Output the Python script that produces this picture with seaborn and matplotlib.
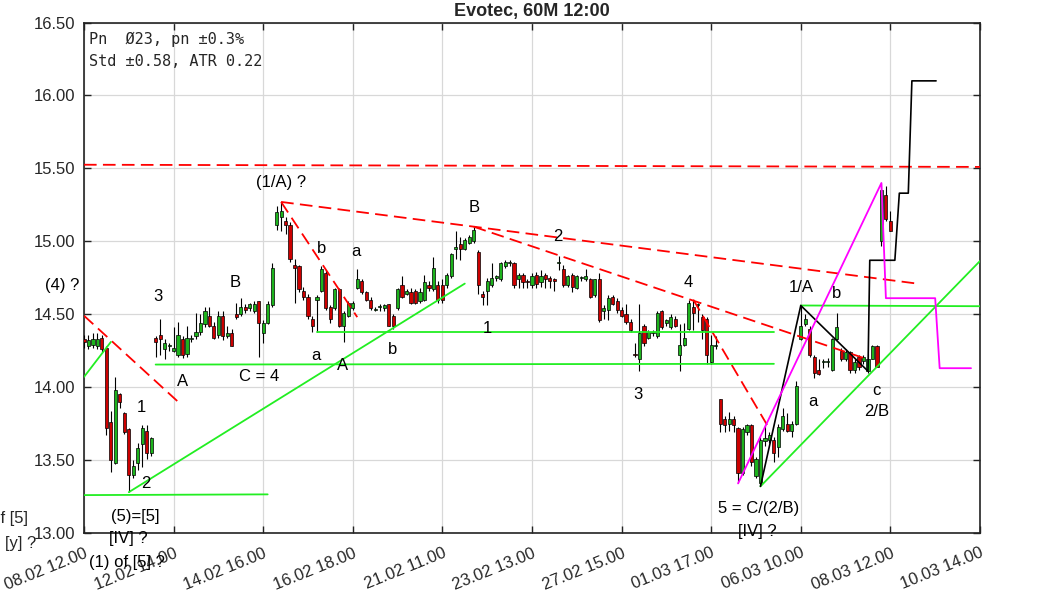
import matplotlib
matplotlib.use("Agg")
import matplotlib.pyplot as plt
import seaborn as sns  # styling + trend lines

sns.set_theme(style="whitegrid")
plt.rcParams['font.family'] = ['Liberation Sans', 'DejaVu Sans']

# hourly candles, one per bar (bar index = position on the x axis)
opens = [14.33, 14.28, 14.29, 14.28, 14.34, 14.27, 13.76, 13.48, 13.95, 13.82,
         13.71, 13.40, 13.48, 13.61, 13.70, 13.55, 14.34, 14.36, 14.26, 14.28,
         14.25, 14.22, 14.33, 14.23, 14.33, 14.35, 14.38, 14.43, 14.49, 14.42,
         14.36, 14.49, 14.35, 14.37, 14.50, 14.50, 14.55, 14.54, 14.52, 14.59,
         14.37, 14.44, 14.56, 15.11, 15.17, 15.14, 15.11, 14.84, 14.83, 14.66,
         14.62, 14.47, 14.60, 14.66, 14.78, 14.55, 14.54, 14.67, 14.42, 14.49,
         14.54, 14.68, 14.73, 14.65, 14.60, 14.53, 14.55, 14.54, 14.57, 14.49,
         14.54, 14.70, 14.64, 14.65, 14.66, 14.59, 14.60, 14.70, 14.67, 14.70,
         14.70, 14.70, 14.76, 14.95, 14.98, 14.95, 14.99, 15.00, 14.93, 14.64,
         14.66, 14.70, 14.75, 14.74, 14.83, 14.85, 14.85, 14.74, 14.77, 14.73,
         14.70, 14.77, 14.72, 14.77, 14.75, 14.74, 14.85, 14.81, 14.70, 14.77,
         14.68, 14.75, 14.74, 14.74, 14.63, 14.74, 14.52, 14.53, 14.62, 14.59,
         14.53, 14.50, 14.45, 14.23, 14.19, 14.42, 14.34, 14.37, 14.35, 14.52,
         14.44, 14.41, 14.47, 14.22, 14.29, 14.40, 14.55, 14.56, 14.48, 14.47,
         14.17, 14.28, 13.92, 13.78, 13.75, 13.78, 13.72, 13.41, 13.69, 13.74,
         13.39, 13.34, 13.63, 13.64, 13.64, 13.59, 13.71, 13.75, 13.70, 13.75,
         14.33, 14.43, 14.40, 14.21, 14.12, 14.17, 14.17, 14.12, 14.33, 14.25,
         14.19, 14.24, 14.12, 14.21, 14.18, 14.11, 14.19, 14.28, 15.00, 15.32,
         15.14]
highs = [14.36, 14.36, 14.37, 14.37, 14.36, 14.28, 13.84, 14.07, 13.96, 13.83,
         13.72, 13.50, 13.62, 13.74, 13.74, 13.66, 14.35, 14.47, 14.33, 14.30,
         14.41, 14.45, 14.35, 14.42, 14.36, 14.51, 14.50, 14.55, 14.55, 14.45,
         14.52, 14.52, 14.42, 14.40, 14.58, 14.61, 14.57, 14.58, 14.59, 14.59,
         14.46, 14.59, 14.85, 15.24, 15.27, 15.17, 15.13, 14.88, 14.84, 14.69,
         14.64, 14.49, 14.63, 14.83, 14.80, 14.56, 14.68, 14.68, 14.52, 14.59,
         14.59, 14.81, 14.74, 14.66, 14.62, 14.55, 14.57, 14.57, 14.57, 14.50,
         14.68, 14.76, 14.67, 14.68, 14.67, 14.68, 14.77, 14.73, 14.89, 14.73,
         14.74, 14.78, 14.92, 15.07, 15.03, 15.02, 15.04, 15.10, 14.94, 14.66,
         14.75, 14.85, 14.77, 14.86, 14.87, 14.87, 14.86, 14.78, 14.78, 14.74,
         14.78, 14.79, 14.80, 14.78, 14.76, 14.75, 14.90, 14.84, 14.77, 14.78,
         14.77, 14.76, 14.81, 14.75, 14.74, 14.78, 14.56, 14.63, 14.63, 14.61,
         14.55, 14.57, 14.47, 14.30, 14.57, 14.43, 14.39, 14.39, 14.52, 14.53,
         14.47, 14.50, 14.49, 14.43, 14.44, 14.60, 14.60, 14.58, 14.50, 14.48,
         14.36, 14.35, 13.92, 13.80, 13.83, 13.80, 13.73, 13.73, 13.75, 13.75,
         13.52, 13.66, 13.74, 13.69, 13.66, 13.75, 13.86, 13.82, 13.77, 14.04,
         14.56, 14.50, 14.42, 14.22, 14.19, 14.19, 14.20, 14.34, 14.51, 14.27,
         14.26, 14.25, 14.19, 14.22, 14.22, 14.23, 14.29, 14.29, 15.40, 15.38,
         15.21]
lows = [14.27, 14.26, 14.27, 14.26, 14.24, 13.67, 13.42, 13.47, 13.86, 13.68,
        13.28, 13.38, 13.43, 13.45, 13.51, 13.53, 14.21, 14.22, 14.19, 14.25,
        14.24, 14.21, 14.20, 14.21, 14.31, 14.33, 14.36, 14.41, 14.41, 14.33,
        14.34, 14.32, 14.34, 14.28, 14.47, 14.49, 14.51, 14.52, 14.51, 14.21,
        14.30, 14.43, 14.55, 15.08, 15.07, 15.05, 14.86, 14.58, 14.65, 14.60,
        14.47, 14.38, 14.38, 14.65, 14.53, 14.44, 14.53, 14.41, 14.31, 14.48,
        14.53, 14.67, 14.64, 14.59, 14.53, 14.52, 14.52, 14.52, 14.42, 14.40,
        14.53, 14.61, 14.63, 14.57, 14.57, 14.58, 14.59, 14.66, 14.66, 14.58,
        14.58, 14.68, 14.75, 14.88, 14.87, 14.94, 14.98, 14.99, 14.64, 14.56,
        14.56, 14.69, 14.73, 14.73, 14.82, 14.83, 14.68, 14.68, 14.68, 14.68,
        14.68, 14.68, 14.69, 14.68, 14.68, 14.66, 14.80, 14.69, 14.69, 14.65,
        14.67, 14.73, 14.73, 14.61, 14.62, 14.45, 14.47, 14.46, 14.56, 14.51,
        14.48, 14.43, 14.38, 14.21, 14.11, 14.28, 14.33, 14.35, 14.34, 14.40,
        14.42, 14.40, 14.41, 14.11, 14.28, 14.39, 14.39, 14.45, 14.33, 14.16,
        14.16, 14.26, 13.69, 13.69, 13.70, 13.69, 13.34, 13.40, 13.67, 13.46,
        13.38, 13.32, 13.60, 13.62, 13.49, 13.52, 13.70, 13.69, 13.66, 13.74,
        14.32, 14.42, 14.21, 14.06, 14.08, 14.13, 14.14, 14.11, 14.32, 14.18,
        14.18, 14.10, 14.10, 14.12, 14.16, 14.10, 14.19, 14.14, 14.97, 15.14,
        15.07]
closes = [14.31, 14.32, 14.33, 14.33, 14.26, 13.72, 13.50, 13.98, 13.90, 13.69,
          13.40, 13.46, 13.58, 13.72, 13.55, 13.65, 14.31, 14.33, 14.30, 14.29,
          14.27, 14.36, 14.22, 14.34, 14.34, 14.38, 14.44, 14.52, 14.42, 14.34,
          14.49, 14.35, 14.37, 14.28, 14.48, 14.55, 14.53, 14.57, 14.57, 14.44,
          14.44, 14.57, 14.82, 15.20, 15.21, 15.11, 14.88, 14.82, 14.67, 14.62,
          14.49, 14.42, 14.62, 14.81, 14.54, 14.47, 14.67, 14.42, 14.51, 14.58,
          14.58, 14.74, 14.65, 14.60, 14.54, 14.53, 14.55, 14.56, 14.42, 14.42,
          14.67, 14.62, 14.66, 14.58, 14.58, 14.65, 14.72, 14.68, 14.82, 14.60,
          14.60, 14.77, 14.91, 14.96, 14.95, 15.01, 15.03, 15.08, 14.70, 14.62,
          14.73, 14.75, 14.76, 14.85, 14.86, 14.85, 14.70, 14.77, 14.72, 14.72,
          14.76, 14.71, 14.76, 14.74, 14.73, 14.73, 14.86, 14.70, 14.76, 14.69,
          14.76, 14.75, 14.76, 14.62, 14.74, 14.46, 14.54, 14.61, 14.57, 14.53,
          14.49, 14.45, 14.39, 14.22, 14.37, 14.30, 14.38, 14.37, 14.51, 14.41,
          14.46, 14.48, 14.42, 14.29, 14.34, 14.58, 14.51, 14.57, 14.39, 14.22,
          14.29, 14.28, 13.75, 13.74, 13.78, 13.74, 13.41, 13.71, 13.74, 13.49,
          13.51, 13.64, 13.65, 13.67, 13.55, 13.73, 13.80, 13.70, 13.75, 14.01,
          14.42, 14.47, 14.22, 14.10, 14.09, 14.17, 14.17, 14.33, 14.41, 14.19,
          14.24, 14.12, 14.17, 14.14, 14.21, 14.19, 14.28, 14.14, 15.35, 15.15,
          15.07]

tick_pos = [0, 20, 40, 60, 80, 100, 120, 140, 160, 180, 200]
tick_labels = ["08.02 12.00", "12.02 14.00", "14.02 16.00", "16.02 18.00",
               "21.02 11.00", "23.02 13.00", "27.02 15.00", "01.03 17.00",
               "06.03 10.00", "08.03 12.00", "10.03 14.00"]

# wave / channel lines (bar, price)
red_flat_x, red_flat_y = [0, 200], [15.525, 15.51]
red_top_x, red_top_y = [44, 186], [15.27, 14.71]
red_b_x, red_b_y = [44, 61], [15.27, 14.48]
red_B_x, red_B_y = [87, 175], [15.10, 14.19]
red_4_x, red_4_y = [136, 152.5], [14.60, 13.74]
red_left_x, red_left_y = [0, 21], [14.49, 13.90]

green_low_x, green_low_y = [0, 41], [13.26, 13.265]
green_up1_x, green_up1_y = [10, 85], [13.28, 14.71]
green_left_x, green_left_y = [0, 6], [14.07, 14.31]
green_c4_x, green_c4_y = [16, 154], [14.155, 14.16]
green_1_x, green_1_y = [52, 154], [14.38, 14.38]
green_up2_x, green_up2_y = [151, 200], [13.32, 14.865]
green_1A_x, green_1A_y = [160, 200], [14.56, 14.555]

black_x = [151, 160, 175, 175.4, 181, 182, 184, 184.8, 190.2]
black_y = [13.32, 14.56, 14.11, 14.87, 14.87, 15.33, 15.33, 16.10, 16.10]
magenta_x = [146, 178, 179, 190, 191, 198]
magenta_y = [13.34, 15.40, 14.61, 14.61, 14.13, 14.13]

# wave labels
labels = ["(4) ?", "3", "A", "1", "2", "(5)=[5]", "[IV] ?", "(1) of [5] ?",
          "(1/A) ?", "B", "C = 4", "a", "A", "b", "a", "b", "B", "1", "2",
          "3", "4", "5 = C/(2/B)", "[IV] ?", "1/A", "b", "a", "c", "2/B"]
label_x = [-4.9, 16.5, 21.9, 12.9, 13.8, 11.4, 9.8, 9.6,
           44, 33.7, 39, 51.8, 57.8, 53, 60.7, 68.8, 87, 90, 105.8,
           123.7, 134.8, 150.7, 150.4, 160, 167.9, 162.7, 176.8, 177]
label_y = [14.70, 14.62, 14.04, 13.86, 13.34, 13.11, 12.96, 12.80,
           15.40, 14.72, 14.07, 14.22, 14.15, 14.95, 14.93, 14.26, 15.23, 14.40, 15.03,
           13.95, 14.72, 13.17, 13.01, 14.68, 14.64, 13.90, 13.98, 13.83]

fig = plt.figure(figsize=(10.63, 5.91), dpi=100)
ax = fig.add_axes([0.079, 0.0981, 0.8429, 0.8638])

# candles
idx = list(range(len(closes)))
body_low = [min(o, c) for o, c in zip(opens, closes)]
body_h = [max(abs(c - o), 0.008) for o, c in zip(opens, closes)]
body_col = ['#1db31d' if c >= o else '#cc0000' for o, c in zip(opens, closes)]
ax.vlines(idx, lows, highs, color='black', lw=0.8, zorder=3)
ax.bar(idx, body_h, bottom=body_low, width=0.7, color=body_col,
       edgecolor='black', linewidth=0.5, zorder=4)

# red dashed lines
for xs, ys in [(red_flat_x, red_flat_y), (red_top_x, red_top_y), (red_b_x, red_b_y),
               (red_B_x, red_B_y), (red_4_x, red_4_y), (red_left_x, red_left_y)]:
    sns.lineplot(x=xs, y=ys, ax=ax, color='#ff0000', lw=1.3, linestyle=(0, (7, 3.5)),
                 sort=False, estimator=None, zorder=5)

# green support lines
for xs, ys in [(green_low_x, green_low_y), (green_up1_x, green_up1_y),
               (green_left_x, green_left_y), (green_c4_x, green_c4_y),
               (green_1_x, green_1_y), (green_up2_x, green_up2_y),
               (green_1A_x, green_1A_y)]:
    sns.lineplot(x=xs, y=ys, ax=ax, color='#22ee22', lw=1.3,
                 sort=False, estimator=None, zorder=5)

sns.lineplot(x=black_x, y=black_y, ax=ax, color='black', lw=1.2,
             sort=False, estimator=None, zorder=6)
sns.lineplot(x=magenta_x, y=magenta_y, ax=ax, color='#ff00ff', lw=1.3,
             sort=False, estimator=None, zorder=6)

for t, x, y in zip(labels, label_x, label_y):
    ax.text(x, y, t, fontsize=12, ha='center', va='center', color='black', zorder=7)

# labels cut by the figure edge, as in the source chart
ax.text(-12.6, 13.10, "(5) of [5]", fontsize=12, ha='right', va='center')
ax.text(-17.6, 12.93, "[y] ?", fontsize=12, ha='left', va='center')

ax.text(0.006, 0.982, "Pn  \u00d823, pn \u00b10.3%", transform=ax.transAxes,
        family=['DejaVu Sans Mono'], fontsize=11, va='top', ha='left')
ax.text(0.006, 0.939, "Std \u00b10.58, ATR 0.22", transform=ax.transAxes,
        family=['DejaVu Sans Mono'], fontsize=11, va='top', ha='left')

ax.set_xlim(0, 200)
ax.set_ylim(13.0, 16.5)
ax.set_xticks(tick_pos)
ax.set_xticklabels(tick_labels, rotation=22, ha='right', rotation_mode='anchor')
ax.set_yticks([13.0, 13.5, 14.0, 14.5, 15.0, 15.5, 16.0, 16.5])
ax.set_yticklabels(["13.00", "13.50", "14.00", "14.50", "15.00", "15.50", "16.00", "16.50"])
ax.set_xlabel("")
ax.set_ylabel("")

ax.grid(True, color='#d8d8d8', lw=0.9)
ax.set_axisbelow(True)
for s in ax.spines.values():
    s.set_color('#222222')
    s.set_linewidth(1.2)
ax.tick_params(axis='both', direction='in', length=5, width=1, color='#222222',
               top=True, right=True, bottom=True, left=True,
               labelsize=12, labelcolor='#262626')
ax.tick_params(axis='x', pad=9)
ax.tick_params(axis='y', pad=6)

ax.set_title("Evotec, 60M 12:00", fontsize=13, fontweight='bold', pad=5)

fig.savefig("out.png", dpi=100)
